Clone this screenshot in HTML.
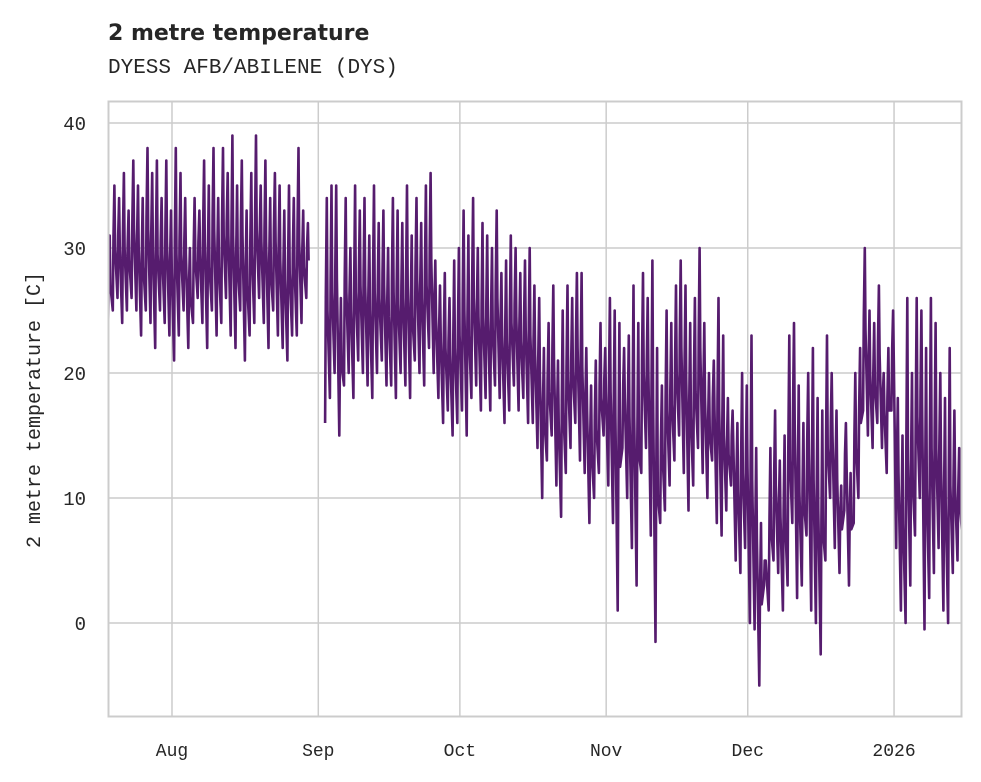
<!DOCTYPE html>
<html><head><meta charset="utf-8"><style>
body{margin:0;background:#fff;}
svg{display:block;}
</style></head><body>
<svg id="chart" width="981" height="782">
<defs><clipPath id="plotclip"><rect x="109" y="102" width="852" height="613"/></clipPath></defs>
<text x="108" y="40" font-family="DejaVu Sans, Liberation Sans, sans-serif" font-weight="bold" font-size="22" fill="#262626">2 metre temperature</text>
<text x="108" y="73" font-family="Liberation Mono, DejaVu Sans Mono, monospace" font-size="21" fill="#262626">DYESS AFB/ABILENE (DYS)</text>
<g id="grid"></g>
<g id="series" clip-path="url(#plotclip)"></g>
<rect x="108.5" y="101.5" width="853" height="615" fill="none" stroke="#cccccc" stroke-width="2"/>
<g id="labels"></g>
<text transform="translate(40,410) rotate(-90)" text-anchor="middle" font-family="Liberation Mono, DejaVu Sans Mono, monospace" font-size="20" fill="#262626">2 metre temperature [C]</text>
</svg>
<script>
const yTicks=[0,10,20,30,40];
const xTickLabels=["Aug","Sep","Oct","Nov","Dec","2026"];
const xTickDays=[14,45,75,106,136,167]; // days since Jul 18
const highs=[31,35,34,36,33,37,35,34,38,36,
37,34,37,33,38,36,34,30,34,33,
37,35,38,34,38,36,39,35,37,33,
36,39,35,37,34,36,35,33,35,34,
38,33,32,null,null,null,34,35,35,26,
34,30,35,33,34,31,35,32,33,30,
34,33,32,35,31,34,32,35,36,29,
27,28,26,29,30,33,31,34,30,32,
31,30,33,28,29,31,30,28,29,30,
27,26,22,24,27,21,25,27,26,28,
28,22,19,21,24,22,26,25,24,22,
23,27,24,28,26,29,22,19,25,24,
27,29,27,24,26,30,24,20,21,26,
23,18,17,16,20,19,23,14,8,5,
14,17,13,15,23,24,19,16,20,22,
18,17,23,20,17,11,16,12,20,22,
30,25,24,27,20,22,25,18,15,26,
20,26,25,22,26,24,20,18,22,17,
14,16.5];
const lows=[23,25,26,24,25,26,25,23,25,24,
22,25,24,23,21,23,25,22,24,26,
24,22,25,23,24,26,23,22,25,21,
23,24,26,24,22,25,23,22,21,23,
23,24,26,null,null,null,16,18,20,15,
19,20,18,21,20,19,18,20,21,19,
19,18,20,19,18,21,20,19,22,20,
18,16,17,15,16,17,15,18,19,17,
18,17,19,18,16,17,19,17,18,16,
16,14,10,13,15,11,8.5,12,14,16,
13,12,8,10,12,15,11,8,1,14,
10,6,3,12,14,7,-1.5,8,9,11,
13,15,12,9,11,14,12,10,13,8,
7,9,11,5,4,6,0,-0.5,-5,3,
1,5,4,1,3,8,2,3,7,1,
0,-2.5,5,10,6,4,9,3,8,10,
17,15,14,16,14,12,17,6,1,0,
3,7,10,-0.5,2,4,6,1,0,4,
5,7];
const NS="http://www.w3.org/2000/svg";
const X0=108,X1=962,Y0=101,Y1=716;
const dMin=0.44,dMax=181.4,tMin=-7.44,tMax=41.76;
function xs(d){return X0+(d-dMin)/(dMax-dMin)*(X1-X0);}
function ys(t){return Y1-(t-tMin)/(tMax-tMin)*(Y1-Y0);}
const grid=document.getElementById('grid'),labels=document.getElementById('labels'),series=document.getElementById('series');
yTicks.forEach(v=>{
 const l=document.createElementNS(NS,'line');
 l.setAttribute('x1',X0);l.setAttribute('x2',X1);l.setAttribute('y1',ys(v));l.setAttribute('y2',ys(v));
 l.setAttribute('stroke','#cccccc');l.setAttribute('stroke-width','1.5');
 
 
 grid.appendChild(l);
 const t=document.createElementNS(NS,'text');
 t.setAttribute('x',86);t.setAttribute('y',ys(v)+7);t.setAttribute('text-anchor','end');
 t.setAttribute('font-family','Liberation Mono, DejaVu Sans Mono, monospace');t.setAttribute('font-size','19');t.setAttribute('fill','#262626');
 t.textContent=v;
 
 
 labels.appendChild(t);
});
xTickDays.forEach((d,i)=>{
 const l=document.createElementNS(NS,'line');
 l.setAttribute('x1',xs(d));l.setAttribute('x2',xs(d));l.setAttribute('y1',Y0);l.setAttribute('y2',Y1);
 l.setAttribute('stroke','#cccccc');l.setAttribute('stroke-width','1.5');
 
 
 grid.appendChild(l);
 const t=document.createElementNS(NS,'text');
 t.setAttribute('x',xs(d));t.setAttribute('y',756);t.setAttribute('text-anchor','middle');
 t.setAttribute('font-family','Liberation Mono, DejaVu Sans Mono, monospace');t.setAttribute('font-size','18');t.setAttribute('fill','#262626');
 t.textContent=xTickLabels[i];
 
 
 labels.appendChild(t);
});
let segs=[],cur=[];
for(let d=0;d<highs.length;d++){
 if(highs[d]==null||lows[d]==null){if(cur.length)segs.push(cur);cur=[];continue;}
 cur.push([xs(d+0.45),ys(lows[d])]);
 cur.push([xs(d+0.6),ys((lows[d]+highs[d])/2+1)]);
 cur.push([xs(d+0.8),ys(highs[d])]);
 cur.push([xs(d+0.95),ys((lows[d]+highs[d])/2)]);
}
if(cur.length)segs.push(cur);
segs.forEach(s=>{
 const p=document.createElementNS(NS,'polyline');
 p.setAttribute('points',s.map(q=>q[0].toFixed(1)+','+q[1].toFixed(1)).join(' '));
 p.setAttribute('fill','none');p.setAttribute('stroke','#561c6e');p.setAttribute('stroke-width','2.6');p.setAttribute('stroke-linejoin','round');
 
 
 series.appendChild(p);
});
</script>
</body></html>
